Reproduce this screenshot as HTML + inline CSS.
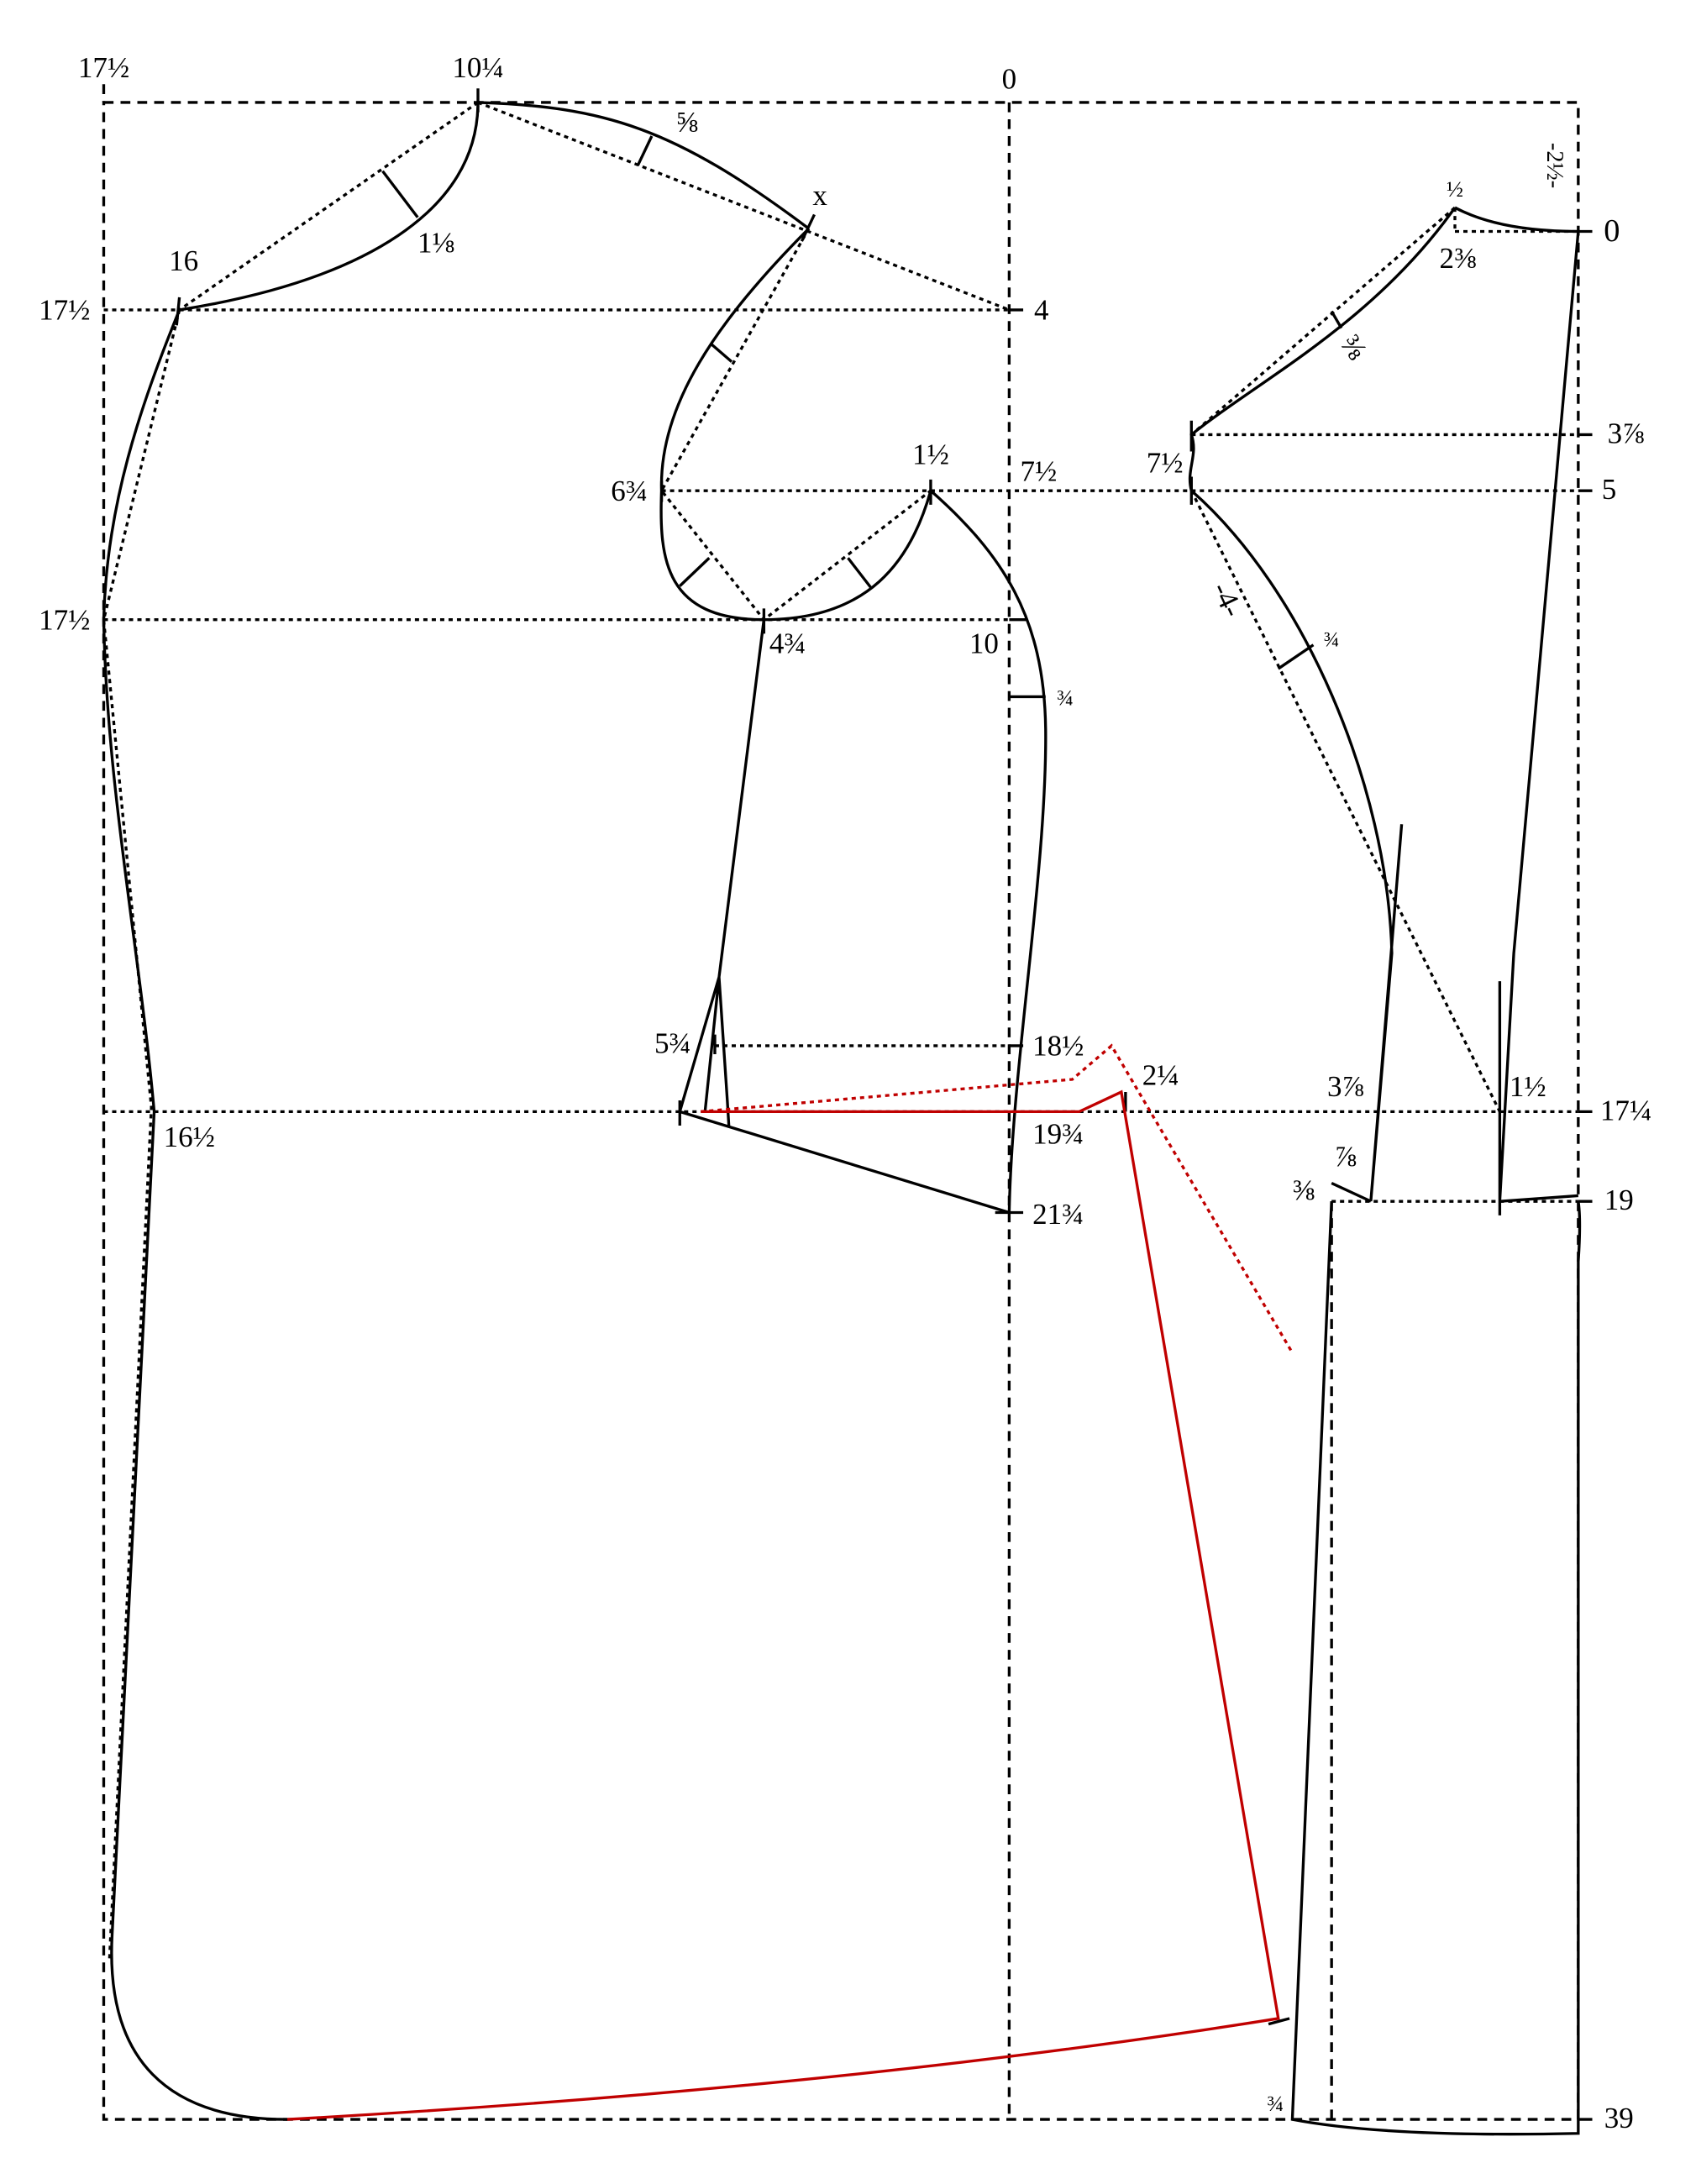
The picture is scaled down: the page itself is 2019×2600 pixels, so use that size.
<!DOCTYPE html>
<html><head><meta charset="utf-8"><style>
html,body{margin:0;padding:0;background:#fff;}
svg{display:block;}
text{font-family:"Liberation Serif",serif;font-size:21px;fill:#000;}
</style></head><body>
<svg width="2019" height="2600" viewBox="0 0 1210 1558" xmlns="http://www.w3.org/2000/svg">
<g fill="none" stroke="#000" stroke-width="2">
<g stroke-dasharray="7,5">
<path d="M74,73 H1126 V1512 H74 Z"/>
<path d="M720,73 V1512"/>
<path d="M950,857 V1512"/>
<path d="M74,60 V73"/>
</g>
<g stroke-dasharray="3,3">
<path d="M74,221 H720"/>
<path d="M472,350 H1126"/>
<path d="M74,442 H720"/>
<path d="M850,310 H1126"/>
<path d="M1038,165 H1126 M1038,148 V165"/>
<path d="M510,746 H720"/>
<path d="M74,793 H1126"/>
<path d="M950,857 H1126"/>
<path d="M341,73 L128,221"/>
<path d="M341,73 L720,221"/>
<path d="M577,163 L472,350 L545,442 L664,350"/>
<path d="M128,221 L74,442 L108,790 L78,1400"/>
<path d="M1038,148 L850,310"/>
<path d="M850,350 L1070,793"/>
</g>
<path d="M720,221 H730 M1126,350 H1136 M1126,310 H1136 M1126,165 H1136 M720,442 H732 M720,746 H730 M1126,793 H1136 M1126,857 H1136 M1126,1512 H1136 M710,865 H730"/>
<path d="M341,63 V80 M128,212 L126,232 M572,172 L581,153 M664,342 V360 M545,434 V452 M472,343 V358 M485,785 V803 M850,300 V322 M850,340 V360"/>
<path d="M273,122 L298,155 M455,118 L465,97 M507,245 L522,258 M485,418 L506,398 M605,398 L622,420 M720,497 H746 M950,222 L957,234 M912,477 L937,460"/>
<path d="M341,73 C341,150 260,200 128,221"/>
<path d="M341,73 C430,76 480,90 577,163"/>
<path d="M577,163 C510,230 470,290 472,350 C470,400 475,442 545,442 C620,442 650,400 664,350"/>
<path d="M664,350 C715,395 745,440 746,520 C747,620 722,760 720,865"/>
<path d="M545,442 L513,697 L485,793 M513,697 L503,793 M513,697 C516,740 518,770 520,803 M510,738 V752"/>
<path d="M485,793 L720,865"/>
<path d="M128,221 C100,290 76,360 74,442 C76,560 100,680 110,793 L80,1380 C75,1470 120,1512 205,1512"/>
<path d="M803,779 V793 M905,1444 L920,1440"/>
<path d="M1038,148 Q1070,165 1126,165"/>
<path d="M1038,148 C980,230 900,270 850,310 C855,325 846,335 850,350"/>
<path d="M850,350 C930,420 990,560 993,680 L978,857 M1000,588 L978,857"/>
<path d="M950,844 L978,857 M950,857 L922,1512 Q990,1525 1126,1522 L1126,900 Q1128,870 1126,857 M1070,857 L1126,853"/>
<path d="M1126,165 L1080,680 L1070,857 M1070,700 V867"/>
</g>
<g fill="none" stroke="#c00000" stroke-width="2">
<path d="M205,1512 Q600,1490 912,1440 L800,779 L770,793 L500,793"/>
<path d="M500,793 L765,770 L793,746 L922,965" stroke-dasharray="3,3"/>
</g>
<g>
<text x="74" y="55" text-anchor="middle">17½</text>
<text x="341" y="55" text-anchor="middle">10¼</text>
<text x="720" y="63" text-anchor="middle">0</text>
<text x="131" y="193" text-anchor="middle">16</text>
<text x="46" y="228" text-anchor="middle">17½</text>
<text x="743" y="228" text-anchor="middle">4</text>
<text x="46" y="449" text-anchor="middle">17½</text>
<text x="311" y="180" text-anchor="middle">1⅛</text>
<text x="490" y="94" text-anchor="middle">⅝</text>
<text x="585" y="146" text-anchor="middle">x</text>
<text x="449" y="357" text-anchor="middle">6¾</text>
<text x="664" y="331" text-anchor="middle">1½</text>
<text x="741" y="343" text-anchor="middle">7½</text>
<text x="831" y="337" text-anchor="middle">7½</text>
<text x="562" y="466" text-anchor="middle">4¾</text>
<text x="702" y="466" text-anchor="middle">10</text>
<text x="760" y="503" text-anchor="middle" style="font-size:16px">¾</text>
<text x="480" y="751" text-anchor="middle">5¾</text>
<text x="755" y="753" text-anchor="middle">18½</text>
<text x="828" y="774" text-anchor="middle">2¼</text>
<text x="755" y="816" text-anchor="middle">19¾</text>
<text x="135" y="818" text-anchor="middle">16½</text>
<text x="755" y="873" text-anchor="middle">21¾</text>
<text x="960" y="782" text-anchor="middle">3⅞</text>
<text x="1090" y="782" text-anchor="middle">1½</text>
<text x="960" y="832" text-anchor="middle">⅞</text>
<text x="930" y="856" text-anchor="middle">⅜</text>
<text x="1155" y="863" text-anchor="middle">19</text>
<text x="1160" y="799" text-anchor="middle">17¼</text>
<text x="1155" y="1518" text-anchor="middle">39</text>
<text x="910" y="1506" text-anchor="middle" style="font-size:16px">¾</text>
<text x="1038" y="140" text-anchor="middle" style="font-size:16px">½</text>
<text x="1040" y="191" text-anchor="middle">2⅜</text>
<text x="965" y="254" text-anchor="middle" transform="rotate(55 965 248)">⅜</text>
<text x="875" y="434" text-anchor="middle" transform="rotate(65 875 428)">-4-</text>
<text x="950" y="461" text-anchor="middle" style="font-size:15px">¾</text>
<text x="1160" y="316" text-anchor="middle">3⅞</text>
<text x="1148" y="356" text-anchor="middle">5</text>
<text x="1150" y="172" text-anchor="middle" style="font-size:23px">0</text>
<text x="1110" y="124" text-anchor="middle" transform="rotate(90 1110 118)" style="font-size:17px">-2½-</text>
</g>
</svg>
</body></html>
